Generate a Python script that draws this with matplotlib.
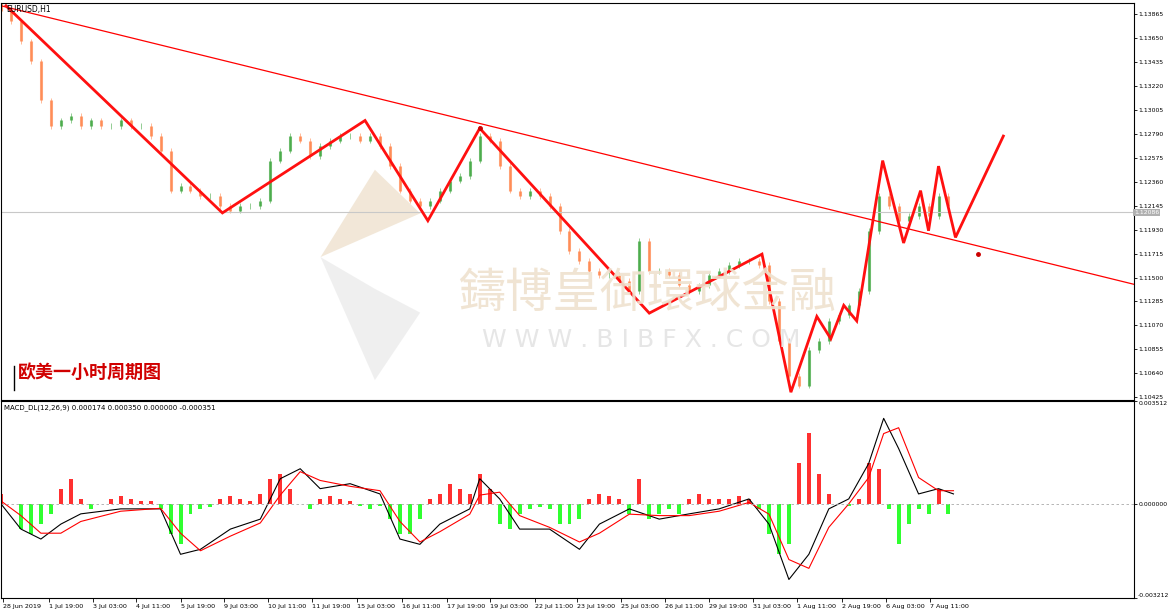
import matplotlib.pyplot as plt
import numpy as np
from matplotlib.patches import Polygon

plt.rcParams['font.family'] = ['DejaVu Sans']

# price closes, one per 10 px (~13 hourly bars)
closes = [1.1389, 1.1380, 1.1362, 1.1344, 1.1309, 1.1286, 1.1291, 1.1295, 1.1286, 1.1291,
          1.1286, 1.1286, 1.1291, 1.1286, 1.1286, 1.1277, 1.1264, 1.1228, 1.1232, 1.1228,
          1.1223, 1.1223, 1.1214, 1.1210, 1.1214, 1.1214, 1.1219, 1.1255, 1.1264, 1.1277,
          1.1273, 1.1259, 1.1268, 1.1273, 1.1277, 1.1277, 1.1273, 1.1277, 1.1268, 1.1250,
          1.1228, 1.1219, 1.1214, 1.1219, 1.1228, 1.1237, 1.1241, 1.1255, 1.1277, 1.1273,
          1.1250, 1.1228, 1.1223, 1.1228, 1.1223, 1.1214, 1.1192, 1.1174, 1.1165, 1.1156,
          1.1152, 1.1152, 1.1147, 1.1138, 1.1183, 1.1156, 1.1156, 1.1152, 1.1143, 1.1138,
          1.1143, 1.1152, 1.1156, 1.1161, 1.1165, 1.1165, 1.1161, 1.1129, 1.1093, 1.1062,
          1.1053, 1.1085, 1.1093, 1.1111, 1.1116, 1.1125, 1.1138, 1.1192, 1.1223, 1.1214,
          1.1201, 1.1205, 1.1214, 1.1205, 1.1223, 1.1214]
high_ext = [0.0005] * len(closes)

zig_idx = [0.5, 22.2, 36.5, 42.8, 48.0, 65.0, 76.3, 79.2, 81.8, 83.2, 84.5, 85.8, 88.4, 90.5, 92.2, 93.0, 94.0, 95.7, 100.5]
zig_px = [1.1394, 1.1208, 1.1291, 1.1201, 1.1284, 1.1118, 1.1171, 1.1047, 1.1115, 1.1095,
          1.1125, 1.1111, 1.1255, 1.1181, 1.1228, 1.1192, 1.1250, 1.1186, 1.1277]
trend_idx = [0.0, 114.0]
trend_px = [1.1394, 1.1143]
last_price = 1.12086

price_ticks = [1.13865, 1.13650, 1.13435, 1.13220, 1.13005, 1.12790, 1.12575, 1.12360,
               1.12145, 1.11930, 1.11715, 1.11500, 1.11285, 1.11070, 1.10855, 1.10640, 1.10425]

# MACD (units of 1e-4)
hist = [3.4, 0, -8.6, -10.3, -6.9, -3.4, 5.2, 8.6, 1.7, -1.7, 0, 1.7, 2.8, 1.7, 1.0, 1.0, -1.7, -10.3,
        -13.8, -3.4, -1.7, -1.0, 1.7, 2.8, 1.7, 1.0, 3.4, 8.6, 10.3, 5.2, 0, -1.7, 1.7, 2.8, 1.7, 1.0,
        -0.7, -1.7, -0.7, -5.2, -10.3, -10.3, -5.2, 1.7, 3.4, 6.9, 5.2, 3.4, 10.3, 5.2, -6.9, -8.6,
        -3.4, -1.7, -1.0, -1.7, -6.9, -6.9, -5.2, 1.7, 3.4, 2.8, 1.7, -3.4, 8.6, -5.2, -3.4, -1.7,
        -3.4, 1.7, 3.4, 1.7, 1.7, 1.7, 2.8, 1.7, -1.7, -10.3, -17.2, -13.8, 13.8, 24.1, 10.3, 3.4,
        0, -0.7, 1.7, 13.8, 12.0, -1.7, -13.8, -6.9, -1.7, -3.4, 5.2, -3.4]
macd_idx = [0, 2, 4, 6, 8, 12, 16, 18, 20, 23, 26, 28, 30, 32, 35, 38, 40, 42, 44, 47, 48, 50,
            52, 55, 58, 60, 63, 66, 69, 72, 75, 77, 79, 81, 83, 85, 87, 88.5, 90, 92, 94, 95.5]
macd = [0, -8.6, -12.0, -6.9, -3.4, -1.7, -1.7, -17.2, -15.5, -8.6, -5.2, 8.6, 12.0, 5.2, 6.9,
        3.4, -12.0, -13.8, -6.9, -1.7, 8.6, 1.7, -8.6, -8.6, -15.5, -6.9, -1.7, -5.2, -3.4, -1.7,
        1.7, -6.9, -25.8, -17.2, -1.7, 1.7, 13.8, 29.2, 18.9, 3.4, 5.2, 3.4]
signal = [1.0, -4.0, -10.0, -10.0, -6.0, -2.5, -1.5, -10.0, -16.0, -11.0, -6.5, 3.0, 11.0, 8.0,
          6.0, 4.5, -6.0, -13.0, -9.5, -3.5, 3.0, 4.0, -4.0, -8.0, -13.0, -10.0, -3.5, -4.0, -4.0,
          -2.5, 0.5, -3.5, -19.0, -22.0, -8.0, 0.0, 9.0, 24.0, 26.0, 9.0, 4.5, 4.5]

tick_idx = [0.2, 4.8, 9.2, 13.5, 18.0, 22.4, 26.8, 31.2, 35.7, 40.2, 44.7, 49.0, 53.5, 57.8,
            62.2, 66.6, 71.0, 75.4, 79.8, 84.3, 88.7, 93.1]
tick_lbl = ['28 Jun 2019', '1 Jul 19:00', '3 Jul 03:00', '4 Jul 11:00', '5 Jul 19:00',
            '9 Jul 03:00', '10 Jul 11:00', '11 Jul 19:00', '15 Jul 03:00', '16 Jul 11:00',
            '17 Jul 19:00', '19 Jul 03:00', '22 Jul 11:00', '23 Jul 19:00', '25 Jul 03:00',
            '26 Jul 11:00', '29 Jul 19:00', '31 Jul 03:00', '1 Aug 11:00', '2 Aug 19:00',
            '6 Aug 03:00', '7 Aug 11:00']

W, H = 1170, 613
fig = plt.figure(figsize=(W / 100, H / 100), dpi=100)
L, R = 1 / W, 1134 / W
ax = fig.add_axes([L, 1 - 400 / H, R - L, 397 / H])
ax2 = fig.add_axes([L, 1 - 598 / H, R - L, 197 / H])
xmax = 113.6

# candles
prev = closes[0] + 0.0008
for i, c in enumerate(closes):
    col = '#2e9e2e' if c >= prev else '#ff7a3a'
    lo, hi = min(prev, c), max(prev, c)
    ax.vlines(i, lo - high_ext[i] * 0.5, hi + high_ext[i] * 0.5, color=col, lw=0.6, alpha=0.6)
    ax.vlines(i, lo, hi, color=col, lw=2.2, alpha=0.7)
    prev = c

ax.axhline(last_price, color='#c8c8c8', lw=0.8)
ax.plot(trend_idx, trend_px, color='red', lw=0.9)
ax.plot(zig_idx, zig_px, color='#ff1010', lw=2.0, solid_joinstyle='miter')
ax.plot([48.0, 98.0], [1.1284, 1.1171], 'o', color='#cc0000', ms=2.5)
ax.set_xlim(0, xmax)
ax.set_ylim(1.1040, 1.13965)
ax.yaxis.tick_right()
ax.set_yticks(price_ticks)
ax.set_yticklabels([f'{t:.5f}' for t in price_ticks], fontsize=4.4)
ax.set_xticks([])
ax.tick_params(axis='y', length=2.5, width=0.6, pad=0.5)
ax.text(1.0, 1.12086, '1.12086', fontsize=4.4, color='white', ha='left', va='center',
        transform=ax.get_yaxis_transform(),
        bbox=dict(boxstyle='square,pad=0.15', fc='#b0b0b0', ec='none'))
ax.text(0.005, 0.995, 'EURUSD,H1', transform=ax.transAxes, fontsize=5.5, va='top', ha='left')

# watermark
wm = '#efe2cf'
ax.add_patch(Polygon([[0.282, 0.36], [0.33, 0.58], [0.37, 0.47], [0.33, 0.42]],
                     closed=True, transform=ax.transAxes, fc=wm, ec='none', alpha=0.8))
ax.add_patch(Polygon([[0.282, 0.36], [0.33, 0.05], [0.37, 0.22], [0.33, 0.28]],
                     closed=True, transform=ax.transAxes, fc='#ececec', ec='none', alpha=0.8))
ax.text(0.57, 0.265, '鑄博皇御環球金融', transform=ax.transAxes, fontsize=34, color=wm,
        ha='center', va='center', family=['Noto Sans CJK TC', 'DejaVu Sans'], alpha=0.9)
ax.text(0.565, 0.15, 'W W W . B I B F X . C O M', transform=ax.transAxes, fontsize=18,
        color='#e6e6e6', ha='center', va='center')
ax.text(0.015, 0.045, '欧美一小时周期图', transform=ax.transAxes, fontsize=13, color='#d00000',
        weight='bold', family=['Noto Sans CJK SC', 'DejaVu Sans'], va='bottom')
ax.axvline(1.3, ymin=0.025, ymax=0.085, color='black', lw=1)

# MACD panel
hx = np.arange(len(hist))
hcol = ['#ff3030' if v >= 0 else '#30ff30' for v in hist]
ax2.bar(hx, np.array(hist) * 1e-4, width=0.4, color=hcol)
ax2.plot(macd_idx, np.array(macd) * 1e-4, color='black', lw=0.8)
ax2.plot(macd_idx, np.array(signal) * 1e-4, color='red', lw=0.8)
ax2.axhline(0, color='#aaaaaa', lw=0.6, ls=(0, (3, 3)))
ax2.set_xlim(0, xmax)
ax2.set_ylim(-0.003212, 0.003512)
ax2.yaxis.tick_right()
ax2.set_yticks([0.003512, 0.0, -0.003212])
ax2.set_yticklabels(['0.003512', '0.000000', '-0.003212'], fontsize=4.4)
ylabs = ax2.get_yticklabels()
ylabs[0].set_va('top')
ylabs[2].set_va('bottom')
ax2.tick_params(axis='y', length=2.5, width=0.6, pad=0.5)
ax2.set_xticks(tick_idx)
ax2.set_xticklabels(tick_lbl, fontsize=4.6, ha='left')
ax2.tick_params(axis='x', length=3, width=0.6, pad=1)
ax2.text(0.003, 0.985, 'MACD_DL(12,26,9) 0.000174 0.000350 0.000000 -0.000351',
         transform=ax2.transAxes, fontsize=5, va='top')

for a in (ax, ax2):
    for s in a.spines.values():
        s.set_linewidth(0.8)

fig.savefig('out.png', dpi=100)
